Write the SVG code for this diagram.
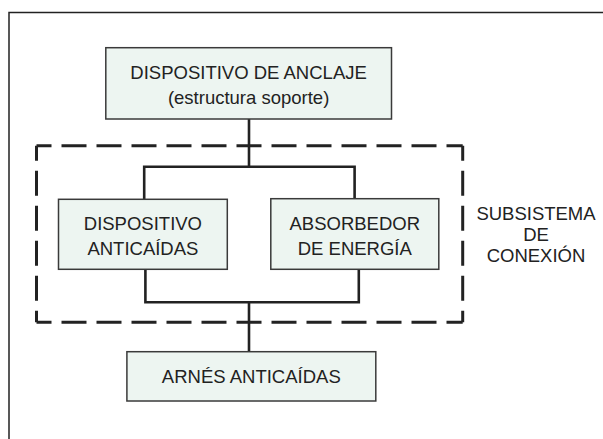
<svg xmlns="http://www.w3.org/2000/svg" width="603" height="439" viewBox="0 0 603 439">
<style>
.box{fill:#edf5f1;stroke:#3a3a3a;stroke-width:1.5}
.ln{fill:none;stroke:#222;stroke-width:2.6}
.dash{fill:none;stroke:#222;stroke-width:3;stroke-dasharray:25 10;stroke-dashoffset:10}
.t{font-family:"Liberation Sans",Arial,sans-serif;font-size:18.5px;fill:#222;text-anchor:middle}
</style>
<rect width="603" height="439" fill="#fff"/>
<path d="M603 12.5H9V439" fill="none" stroke="#222" stroke-width="1.5"/>
<g id="connectors">
<path class="ln" d="M249 119V166.7M144.2 199.3V166.7H354.6V198.7M145.4 269.3V302.3H358.8V269.3M249 302.3V351.7"/>
</g>
<g id="subsistema">
<path class="dash" d="M36.5 145.7H462.7"/>
<path class="dash" d="M36.5 322.3H462.7"/>
<path class="dash" d="M36.5 145.7V322.3"/>
<path class="dash" d="M462.7 145.7V322.3"/>
<text class="t" x="536" y="220">SUBSISTEMA</text>
<text class="t" x="536" y="241">DE</text>
<text class="t" x="536" y="262">CONEXIÓN</text>
</g>
<g id="anclaje">
<rect class="box" x="105.8" y="47.7" width="285.7" height="71.3"/>
<text class="t" x="248.6" y="79">DISPOSITIVO DE ANCLAJE</text>
<text class="t" x="248.6" y="104">(estructura soporte)</text>
</g>
<g id="anticaidas">
<rect class="box" x="58.5" y="199.3" width="168.8" height="70"/>
<text class="t" x="142.9" y="230">DISPOSITIVO</text>
<text class="t" x="142.9" y="255">ANTICAÍDAS</text>
</g>
<g id="absorbedor">
<rect class="box" x="270.8" y="198.7" width="168" height="70.6"/>
<text class="t" x="354.8" y="230">ABSORBEDOR</text>
<text class="t" x="354.8" y="255">DE ENERGÍA</text>
</g>
<g id="arnes">
<rect class="box" x="126.9" y="351.7" width="248.9" height="49.3"/>
<text class="t" x="251.3" y="383">ARNÉS ANTICAÍDAS</text>
</g>
</svg>
